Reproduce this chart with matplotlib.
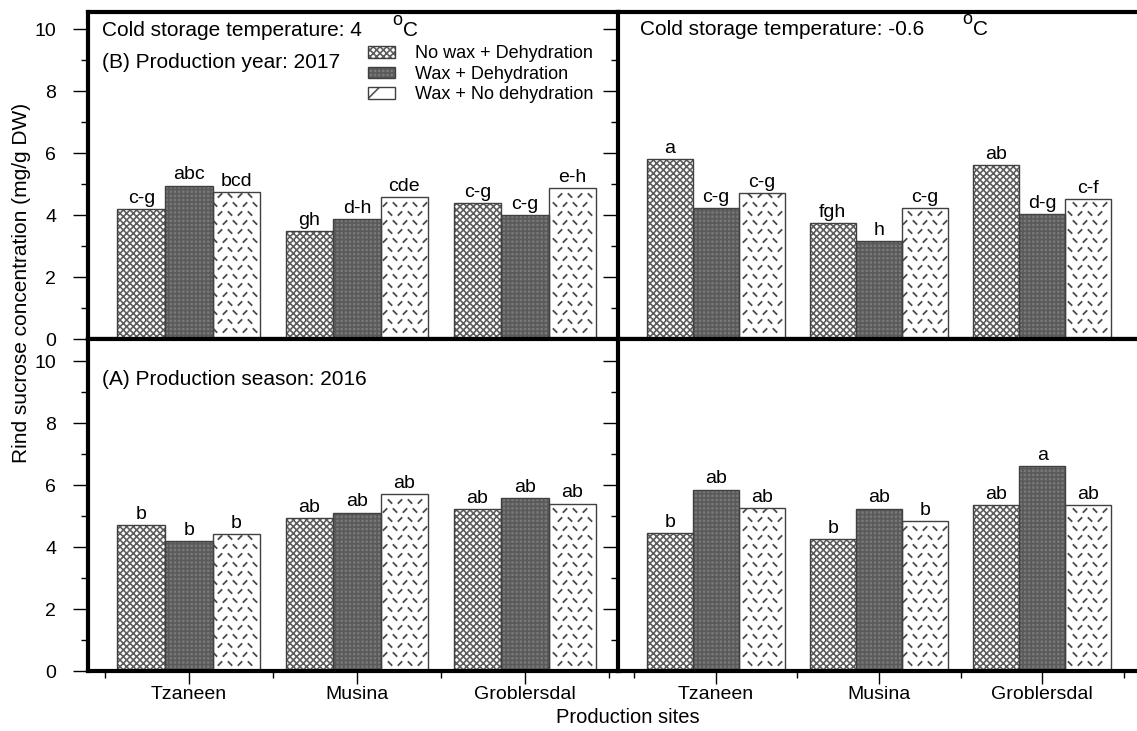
import numpy as np
import matplotlib
matplotlib.use('Agg')
import matplotlib.pyplot as plt
from matplotlib.patches import Patch
from matplotlib.collections import LineCollection
from matplotlib.transforms import IdentityTransform

plt.rcParams['font.family'] = ['Liberation Sans', 'DejaVu Sans']
plt.rcParams['hatch.linewidth'] = 1.2

sites = ['Tzaneen', 'Musina', 'Groblersdal']
treatments = ['No wax + Dehydration', 'Wax + Dehydration', 'Wax + No dehydration']

# rows: treatment, columns: site
y2017_4c = [[4.18, 3.49, 4.39], [4.95, 3.87, 4.00], [4.75, 4.57, 4.87]]
y2017_4c_let = [['c-g', 'gh', 'c-g'], ['abc', 'd-h', 'c-g'], ['bcd', 'cde', 'e-h']]

y2017_m06 = [[5.81, 3.74, 5.61], [4.23, 3.16, 4.03], [4.71, 4.23, 4.52]]
y2017_m06_let = [['a', 'fgh', 'ab'], ['c-g', 'h', 'd-g'], ['c-g', 'c-g', 'c-f']]

y2016_4c = [[4.72, 4.93, 5.22], [4.20, 5.11, 5.59], [4.42, 5.72, 5.40]]
y2016_4c_let = [['b', 'ab', 'ab'], ['b', 'ab', 'ab'], ['b', 'ab', 'ab']]

y2016_m06 = [[4.45, 4.25, 5.35], [5.85, 5.24, 6.60], [5.26, 4.84, 5.34]]
y2016_m06_let = [['b', 'b', 'ab'], ['ab', 'ab', 'a'], ['ab', 'b', 'ab']]

face = ['white', '#787878', 'white']
hcol = ['#5e5e5e', '#5a5a5a', '#555555']
hatches = ['xxxxx', '++++', None]
width = 0.283
x = np.arange(1, 4)

fig = plt.figure(figsize=(11.37, 7.31), dpi=100)

W, H = 1137, 731
def px_axes(x0, y0, x1, y1):
    return fig.add_axes([x0 / W, 1 - y1 / H, (x1 - x0) / W, (y1 - y0) / H])

ax_tl = px_axes(88, 12, 619, 339)
ax_tr = px_axes(618, 12, 1140, 339)
ax_bl = px_axes(88, 339, 619, 671)
ax_br = px_axes(618, 339, 1140, 671)


def style(ax, top, left):
    for s in ax.spines.values():
        s.set_linewidth(3)
        s.set_zorder(5)
    ax.spines['right'].set_visible(False)
    ax.set_ylim(0, 10.55 if top else 10.71)
    ax.set_xlim(0.4, 3.56 if left else 3.6)
    ax.set_yticks(range(0, 11, 2))
    ax.set_yticks(range(1, 10, 2), minor=True)
    ax.tick_params(axis='y', which='major', length=11, width=1, pad=12, labelsize=14)
    ax.tick_params(axis='y', which='minor', length=5, width=1)
    if not left:
        ax.tick_params(axis='y', labelleft=False)
    ax.set_xticks(x)
    ax.set_xticks(np.arange(0.5, 4, 1), minor=True)
    if top:
        ax.tick_params(axis='x', which='major', length=0, labelbottom=False)
        ax.tick_params(axis='x', which='minor', length=4, width=1)
    else:
        ax.set_xticklabels(sites)
        ax.tick_params(axis='x', which='major', length=9, width=1, pad=2, labelsize=14)
        ax.tick_params(axis='x', which='minor', length=5, width=1)


def dash_texture(ax, bars, dx=10.0, dy=9.0, half=2.2):
    # short "/" and "\" dashes on a fixed pixel grid, like the original fill pattern
    for bar in bars:
        bb = bar.get_window_extent()
        segs = []
        for j in range(int(bb.y0 // dy), int(bb.y1 // dy) + 1):
            yc = j * dy + dy / 2
            shift = dx / 2 if j % 2 else 0.0
            for i in range(int(bb.x0 // dx) - 1, int(bb.x1 // dx) + 1):
                xc = i * dx + shift + dx / 2
                if not (bb.x0 + 2 < xc < bb.x1 - 2 and bb.y0 + 1 < yc < bb.y1 - 2):
                    continue
                s = half if (i + j) % 2 == 0 else -half
                segs.append([(xc - half, yc - s), (xc + half, yc + s)])
        lc = LineCollection(segs, transform=IdentityTransform(), colors='#4a4a4a',
                            linewidths=1.3, zorder=2.5)
        ax.add_collection(lc, autolim=False)
        lc.set_clip_path(bar)


def draw_bars(ax, vals, letters):
    for i in range(3):
        xs = x + (i - 1) * width
        bars = ax.bar(xs, vals[i], width, color=face[i], edgecolor=hcol[i], hatch=hatches[i],
                      linewidth=0, zorder=2)
        ax.bar(xs, vals[i], width, color='none', edgecolor='#404040', linewidth=1.0, zorder=3)
        if hatches[i] is None:
            dash_texture(ax, bars)
        for xx, v, lab in zip(xs, vals[i], letters[i]):
            ax.text(xx, v + 0.07, lab, ha='center', va='bottom', fontsize=14)


style(ax_tl, True, True)
style(ax_tr, True, False)
style(ax_bl, False, True)
style(ax_br, False, False)
draw_bars(ax_tl, y2017_4c, y2017_4c_let)
draw_bars(ax_tr, y2017_m06, y2017_m06_let)
draw_bars(ax_bl, y2016_4c, y2016_4c_let)
draw_bars(ax_br, y2016_m06, y2016_m06_let)

ax_tl.text(0.026, 0.942, 'Cold storage temperature: 4', transform=ax_tl.transAxes,
           fontsize=15, va='center')
ax_tl.text(0.573, 0.975, 'o', transform=ax_tl.transAxes, fontsize=13, va='center')
ax_tl.text(0.594, 0.942, 'C', transform=ax_tl.transAxes, fontsize=15, va='center')
ax_tl.text(0.026, 0.847, '(B) Production year: 2017', transform=ax_tl.transAxes,
           fontsize=15, va='center')

ax_tr.text(0.042, 0.945, 'Cold storage temperature: -0.6', transform=ax_tr.transAxes,
           fontsize=15, va='center')
ax_tr.text(0.66, 0.978, 'o', transform=ax_tr.transAxes, fontsize=13, va='center')
ax_tr.text(0.68, 0.945, 'C', transform=ax_tr.transAxes, fontsize=15, va='center')

ax_bl.text(0.026, 0.877, '(A) Production season: 2016', transform=ax_bl.transAxes,
           fontsize=15, va='center')

leg_hatch = ['xxxxx', '++++', '/']
handles = [(Patch(facecolor=face[i], edgecolor=hcol[i], hatch=leg_hatch[i], lw=0),
            Patch(facecolor='none', edgecolor='#404040', lw=1)) for i in range(3)]
ax_tl.legend(handles, treatments, loc='upper left', bbox_to_anchor=(0.497, 0.948),
             frameon=False, fontsize=13, handlelength=1.5, handleheight=0.6,
             labelspacing=0.2, handletextpad=1.1)

fig.text(0.019, 0.613, 'Rind sucrose concentration (mg/g DW)', rotation=90,
         ha='center', va='center', fontsize=15)
fig.text(0.552, 0.019, 'Production sites', ha='center', va='center', fontsize=14.5)

fig.savefig('out.png', dpi=100)
